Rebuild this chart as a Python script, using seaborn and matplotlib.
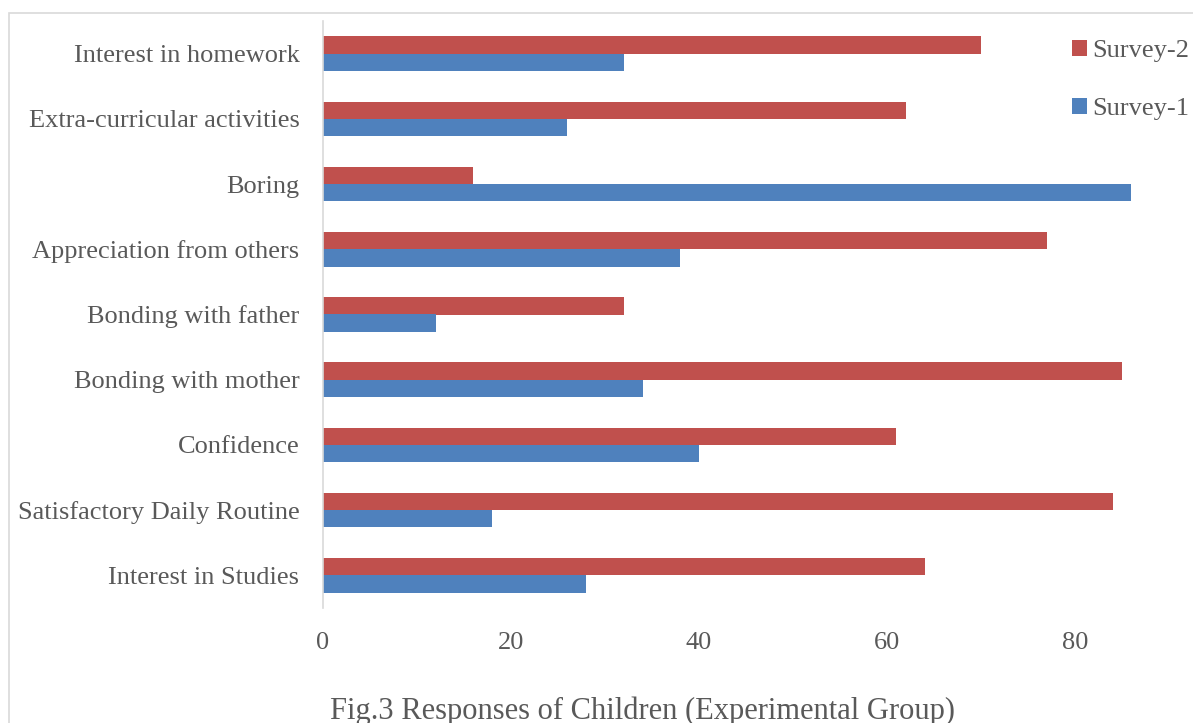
import matplotlib
matplotlib.use("Agg")
import matplotlib.pyplot as plt
import seaborn as sns
import pandas as pd
from matplotlib.patches import Rectangle, Patch

categories = ["Interest in homework", "Extra-curricular activities", "Boring",
              "Appreciation from others", "Bonding with father", "Bonding with mother",
              "Confidence", "Satisfactory Daily Routine", "Interest in Studies"]
survey2 = [70, 62, 16, 77, 32, 85, 61, 84, 64]
survey1 = [32, 26, 86, 38, 12, 34, 40, 18, 28]
series_names = ["Survey-2", "Survey-1"]
x_ticks = [0, 20, 40, 60, 80]
title = "Fig.3 Responses of Children (Experimental Group)"

df = pd.DataFrame({
    "Category": categories * 2,
    "Value": survey2 + survey1,
    "Series": [series_names[0]] * len(categories) + [series_names[1]] * len(categories),
})

sns.set_theme(style="white")
plt.rcParams['font.family'] = ['Liberation Serif', 'DejaVu Serif']

W, H = 1193, 723
fig = plt.figure(figsize=(W / 100, H / 100), dpi=100)
ax = fig.add_axes([323 / W, (723 - 608) / H, (W - 323) / W, (608 - 21) / H])

colors = {"Survey-2": "#C0504D", "Survey-1": "#4F81BD"}
sns.barplot(data=df, y="Category", x="Value", hue="Series", hue_order=series_names,
            order=categories, palette=colors, orient="h", width=0.53, ax=ax,
            saturation=1, legend=False, linewidth=0)

ax.set_xlim(0, (W - 323) / 9.4)
ax.set_xticks(x_ticks)
ax.set_xlabel("")
ax.set_ylabel("")
for s in ["top", "right", "bottom"]:
    ax.spines[s].set_visible(False)
ax.spines["left"].set_color("#D9D9D9")
ax.spines["left"].set_linewidth(1.2)
ax.tick_params(axis="y", length=0, pad=17, labelsize=19, labelcolor="#595959")
ax.tick_params(axis="x", length=0, pad=17, labelsize=19, labelcolor="#595959")
ax.grid(False)

handles = [Patch(facecolor=colors[n], edgecolor="none") for n in series_names]
fig.legend(handles, series_names, loc="upper left", bbox_to_anchor=(1072 / W, 1 - 40 / H),
           frameon=False, fontsize=19, labelcolor="#595959", handlelength=0.55,
           handleheight=0.55, handletextpad=0.2, labelspacing=1.35, borderpad=0,
           borderaxespad=0)

fig.text(643 / W, 1 - 711 / H, title, ha="center", va="center", fontsize=22, color="#595959")

fig.patches.append(Rectangle((9 / W, -0.1), 1.2, 1 - 13 / H + 0.1, transform=fig.transFigure,
                             fill=False, edgecolor="#D9D9D9", linewidth=1.2))

fig.savefig("out.png", dpi=100)
